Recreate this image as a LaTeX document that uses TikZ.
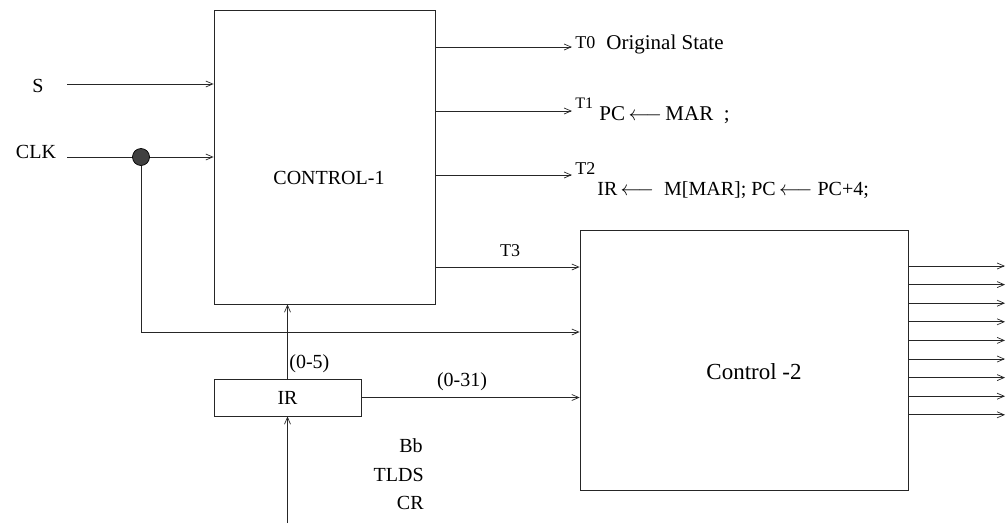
\documentclass[tikz,border=0pt]{standalone}
\usepackage{fontspec}
\setmainfont{Liberation Serif}
\usetikzlibrary{arrows.meta}
\begin{document}
\begin{tikzpicture}[x=1pt,y=-1pt,
  line width=0.7pt, draw=black!85,
  arr/.style={-{Straight Barb[length=7pt,width=6pt]}},
  box/.style={draw, rectangle, inner sep=0pt},
  txt/.style={inner sep=0pt, font=\fontsize{20}{22}\selectfont},
  tlab/.style={inner sep=0pt, font=\fontsize{18}{20}\selectfont},
  expr/.style={inner sep=0pt, font=\fontsize{21}{24}\selectfont}]
\useasboundingbox (0,0) rectangle (1007,523);
% boxes
\node[box, minimum width=221pt, minimum height=294pt] (c1) at (324.5,157) {};
\node[txt] (c1t) at (329,178) {CONTROL-1};
\node[box, minimum width=328pt, minimum height=260pt] (c2) at (744,360) {};
\node[inner sep=0pt, font=\fontsize{23}{26}\selectfont] (c2t) at (754,372) {Control -2};
\node[box, minimum width=147pt, minimum height=37pt, txt] (ir) at (287.5,397.5) {IR};
% inputs S, CLK
\node[txt] (s) at (38,86) {S};
\node[txt] (clk) at (36,152) {CLK};
\coordinate (s0) at (67,84);
\coordinate (k0) at (67,157);
\draw[arr] (s0) -- (s0 -| c1.west);
\draw[arr] (k0) -- (k0 -| c1.west);
\node[circle, draw=black, fill=black!75, minimum size=17pt, inner sep=0pt] (dot) at (141,157) {};
\coordinate (k2) at (0,332);
\draw[arr] (dot.south) |- (k2 -| c2.west);
% outputs of control-1
\coordinate (t0) at (572,47);
\coordinate (t1) at (572,111);
\coordinate (t2) at (572,175);
\coordinate (t3) at (0,267);
\draw[arr] (t0 -| c1.east) -- (t0);
\draw[arr] (t1 -| c1.east) -- (t1);
\draw[arr] (t2 -| c1.east) -- (t2);
\draw[arr] (t3 -| c1.east) -- (t3 -| c2.west);
\node[tlab, anchor=west] (l0) at (575,43) {T0};
\node[expr, anchor=west] (e0) at (606,44) {Original State};
\node[tlab, anchor=west, font=\fontsize{16}{18}\selectfont] (l1) at (575,103) {T1};
\node[expr, anchor=west] (e1) at (599,115) {PC\,$\longleftarrow$\,MAR\ \ ;};
\node[tlab, anchor=west] (l2) at (575,169) {T2};
\node[expr, anchor=west, font=\fontsize{20}{22}\selectfont] (e2) at (597,190) {IR\,$\longleftarrow$\ \ M[MAR]; PC\,$\longleftarrow$\ PC+4;};
\node[txt, font=\fontsize{18}{20}\selectfont] (l3) at (510,251) {T3};
% IR connections
\draw[arr] (ir.north) -- (ir.north |- c1.south);
\draw[arr] (ir.east) -- (ir.east -| c2.west);
\coordinate (in) at (287.5,523);
\draw[arr] (in) -- (ir.south);
\node[txt, anchor=west] (l05) at (289,364) {(0-5)};
\node[txt] (l031) at (462,382) {(0-31)};
\node[txt, anchor=east] (bb) at (423,446) {Bb};
\node[txt, anchor=east] (tlds) at (424,475) {TLDS};
\node[txt, anchor=east] (cr) at (424,503) {CR};
% outputs of control-2
\foreach \i in {0,...,8} {
  \coordinate (o\i) at (1005,{266+18.6*\i});
  \draw[arr] (o\i -| c2.east) -- (o\i);
}
\end{tikzpicture}
\end{document}
